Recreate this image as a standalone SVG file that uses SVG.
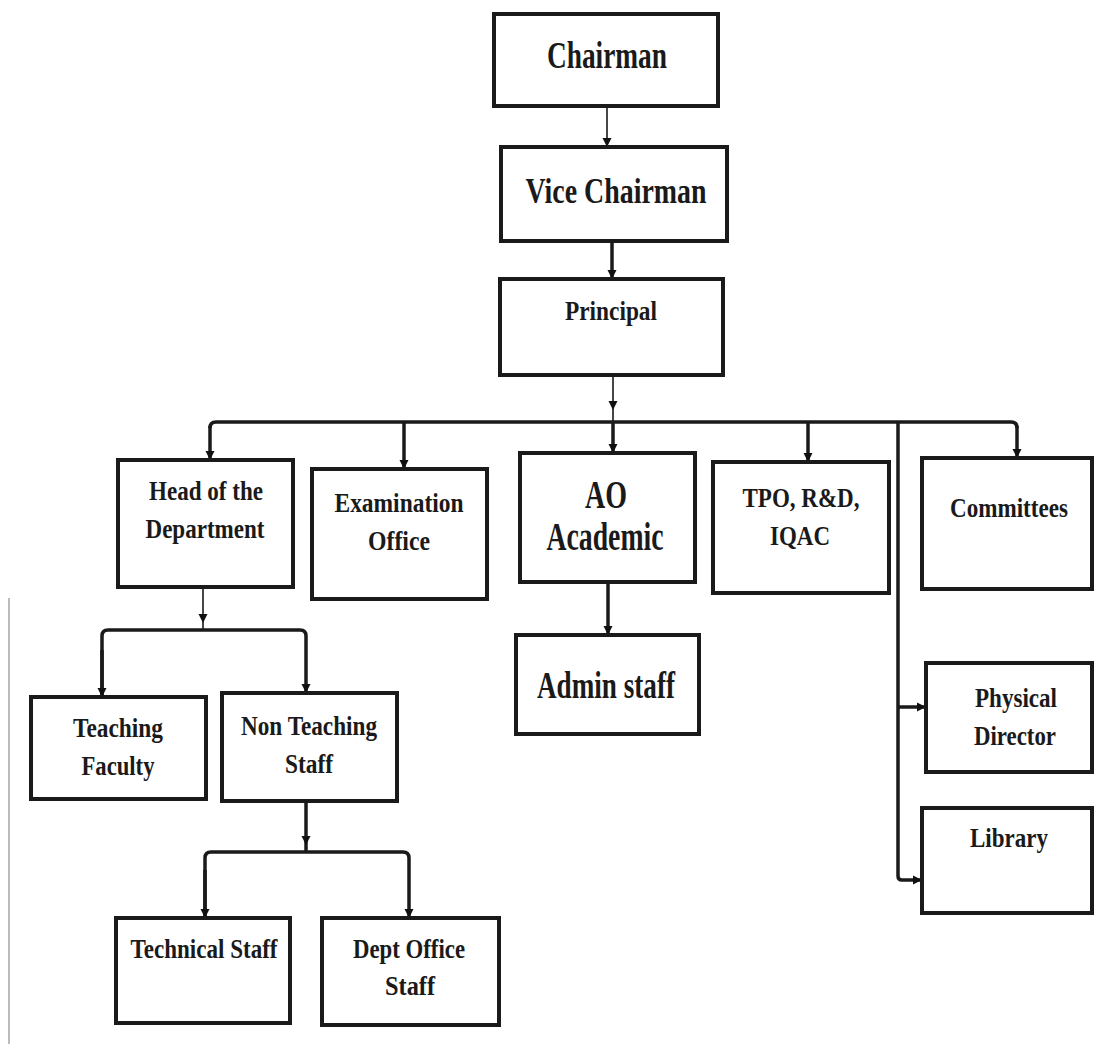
<svg xmlns="http://www.w3.org/2000/svg" width="1095" height="1044" viewBox="0 0 1095 1044">
<defs>
<marker id="arr" viewBox="0 0 10 10" refX="10" refY="5" markerWidth="9" markerHeight="10" markerUnits="userSpaceOnUse" orient="auto">
<path d="M0,0 L10,5 L0,10 z" fill="#111"/>
</marker>
<style>
.box{fill:#fff;stroke:#1a1a1a;stroke-width:4}
.t{font-family:"Liberation Serif","Times New Roman",serif;font-weight:bold;fill:#1a1a1a;text-anchor:middle}
.s{font-size:27px}
.l{font-size:38px}
.thick{fill:none;stroke:#1a1a1a;stroke-width:3.5}
.thin{fill:none;stroke:#1a1a1a;stroke-width:1.6}
</style>
</defs>
<rect width="1095" height="1044" fill="#fff"/>
<line x1="9" y1="598" x2="9" y2="1044" stroke="#bbb" stroke-width="2"/>

<g id="connectors">
<path class="thin" d="M607 106 V147" marker-end="url(#arr)"/>
<path class="thick" d="M612 241 V279" marker-end="url(#arr)"/>
<path class="thin" d="M613 375 V410" marker-end="url(#arr)"/>
<path class="thin" d="M613 410 V422"/>
<path class="thick" d="M210 428 Q210 422 216 422 H1011 Q1017 422 1017 428"/>
<path class="thick" d="M210 426 V460" marker-end="url(#arr)"/>
<path class="thick" d="M404 422 V469" marker-end="url(#arr)"/>
<path class="thick" d="M613 422 V453" marker-end="url(#arr)"/>
<path class="thick" d="M808 422 V462" marker-end="url(#arr)"/>
<path class="thick" d="M1017 426 V458" marker-end="url(#arr)"/>
<path class="thick" d="M898 422 V876 Q898 880 902 880 H922" marker-end="url(#arr)"/>
<path class="thick" d="M898 707 H926" marker-end="url(#arr)"/>
<path class="thick" d="M608 582 V635" marker-end="url(#arr)"/>
<path class="thin" d="M203 587 V623" marker-end="url(#arr)"/>
<path class="thin" d="M203 623 V630"/>
<path class="thick" d="M102 697 V636 Q102 630 108 630 H300 Q306 630 306 636 V693" marker-end="url(#arr)"/>
<path class="thick" d="M102 650 V697" marker-end="url(#arr)"/>
<path class="thick" d="M306 801 V845" marker-end="url(#arr)"/>
<path class="thick" d="M306 845 V852"/>
<path class="thick" d="M205 918 V858 Q205 852 211 852 H403 Q409 852 409 858 V918" marker-end="url(#arr)"/>
<path class="thick" d="M205 870 V918" marker-end="url(#arr)"/>
</g>

<g id="chairman">
<rect class="box" x="494" y="14" width="224" height="92"/>
<text class="t" x="607" y="68" font-size="37" textLength="120" lengthAdjust="spacingAndGlyphs">Chairman</text>
</g>
<g id="vice-chairman">
<rect class="box" x="501" y="147" width="226" height="94"/>
<text class="t" x="616" y="203" font-size="35" textLength="181" lengthAdjust="spacingAndGlyphs">Vice Chairman</text>
</g>
<g id="principal">
<rect class="box" x="500" y="279" width="223" height="96"/>
<text class="t s" x="611" y="320" textLength="92" lengthAdjust="spacingAndGlyphs">Principal</text>
</g>
<g id="hod">
<rect class="box" x="118" y="460" width="175" height="127"/>
<text class="t s" x="206" y="500" textLength="114" lengthAdjust="spacingAndGlyphs">Head of the</text>
<text class="t s" x="205" y="538" textLength="119" lengthAdjust="spacingAndGlyphs">Department</text>
</g>
<g id="exam">
<rect class="box" x="312" y="469" width="175" height="130"/>
<text class="t s" x="399" y="512" textLength="129" lengthAdjust="spacingAndGlyphs">Examination</text>
<text class="t s" x="399" y="550" textLength="62" lengthAdjust="spacingAndGlyphs">Office</text>
</g>
<g id="ao-academic">
<rect class="box" x="520" y="453" width="175" height="129"/>
<text class="t" x="606" y="508" font-size="40" textLength="42" lengthAdjust="spacingAndGlyphs">AO</text>
<text class="t" x="605" y="550" font-size="40" textLength="117" lengthAdjust="spacingAndGlyphs">Academic</text>
</g>
<g id="tpo">
<rect class="box" x="713" y="462" width="176" height="131"/>
<text class="t s" x="801" y="507" textLength="117" lengthAdjust="spacingAndGlyphs">TPO, R&amp;D,</text>
<text class="t s" x="800" y="545" textLength="60" lengthAdjust="spacingAndGlyphs">IQAC</text>
</g>
<g id="committees">
<rect class="box" x="922" y="458" width="170" height="131"/>
<text class="t s" x="1009" y="517" textLength="118" lengthAdjust="spacingAndGlyphs">Committees</text>
</g>
<g id="admin-staff">
<rect class="box" x="516" y="635" width="183" height="99"/>
<text class="t l" x="606" y="698" textLength="138" lengthAdjust="spacingAndGlyphs">Admin staff</text>
</g>
<g id="physical-director">
<rect class="box" x="926" y="663" width="166" height="109"/>
<text class="t s" x="1016" y="707" textLength="82" lengthAdjust="spacingAndGlyphs">Physical</text>
<text class="t s" x="1015" y="745" textLength="82" lengthAdjust="spacingAndGlyphs">Director</text>
</g>
<g id="library">
<rect class="box" x="922" y="808" width="170" height="105"/>
<text class="t s" x="1009" y="847" textLength="78" lengthAdjust="spacingAndGlyphs">Library</text>
</g>
<g id="teaching-faculty">
<rect class="box" x="31" y="697" width="175" height="102"/>
<text class="t s" x="118" y="737" textLength="90" lengthAdjust="spacingAndGlyphs">Teaching</text>
<text class="t s" x="118" y="775" textLength="73" lengthAdjust="spacingAndGlyphs">Faculty</text>
</g>
<g id="non-teaching-staff">
<rect class="box" x="222" y="693" width="175" height="108"/>
<text class="t s" x="309" y="735" textLength="136" lengthAdjust="spacingAndGlyphs">Non Teaching</text>
<text class="t s" x="309" y="773" textLength="48" lengthAdjust="spacingAndGlyphs">Staff</text>
</g>
<g id="technical-staff">
<rect class="box" x="116" y="918" width="174" height="105"/>
<text class="t s" x="204" y="958" textLength="147" lengthAdjust="spacingAndGlyphs">Technical Staff</text>
</g>
<g id="dept-office-staff">
<rect class="box" x="322" y="918" width="177" height="107"/>
<text class="t s" x="409" y="958" textLength="112" lengthAdjust="spacingAndGlyphs">Dept Office</text>
<text class="t s" x="410" y="995" textLength="50" lengthAdjust="spacingAndGlyphs">Staff</text>
</g>
</svg>
